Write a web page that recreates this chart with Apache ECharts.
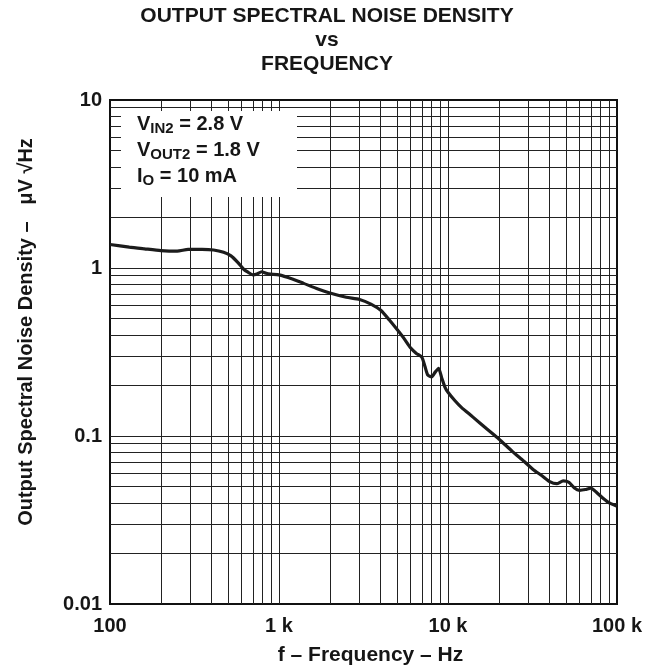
<!DOCTYPE html>
<html><head><meta charset="utf-8">
<script src="https://cdn.jsdelivr.net/npm/echarts@6/dist/echarts.min.js"></script>
<style>html,body{margin:0;padding:0;background:#fff}#c{width:652px;height:672px}</style>
</head><body><div id="c"></div>
<script>
// ---- data ----
const freqHz = [100,130,160,200,250,290,350,410,470,520,570,620,660,700,740,790,840,890,1000,1200,1400,1700,2000,2500,3000,3500,4000,4500,5000,5500,6000,6500,7000,7300,7600,8000,8400,8800,9200,9600,10000,11000,12000,14000,17000,20000,24000,28000,32000,36000,40000,44000,48000,52000,56000,60000,65000,70000,76000,83000,90000,100000];
const noiseUvRtHz = [1.38,1.33,1.30,1.27,1.26,1.29,1.29,1.28,1.24,1.18,1.08,0.98,0.94,0.91,0.92,0.95,0.93,0.92,0.91,0.86,0.81,0.75,0.71,0.67,0.65,0.61,0.56,0.49,0.43,0.38,0.335,0.31,0.295,0.26,0.23,0.225,0.24,0.253,0.22,0.195,0.182,0.162,0.148,0.13,0.11,0.096,0.081,0.071,0.063,0.058,0.0535,0.052,0.054,0.053,0.049,0.0475,0.048,0.049,0.046,0.0425,0.040,0.0383];
const xTickValues = [100,1000,10000,100000];
const xTickLabels = ['100','1 k','10 k','100 k'];
const yTickValues = [0.01,0.1,1,10];
const yTickLabels = ['0.01','0.1','1','10'];
const xGridDecades = [100,1000,10000];
const yGridDecades = [0.01,0.1,1];
const gridMultipliers = [1,2,3,4,5,6,7,8,9];
const titleLines = ['OUTPUT SPECTRAL NOISE DENSITY','vs','FREQUENCY'];
const xAxisName = 'f \u2013 Frequency \u2013 Hz';
const yAxisName = 'Output Spectral Noise Density \u2013   \u03bcV \u221aHz';
const conditionLines = [['V','IN2',' = 2.8 V'],['V','OUT2',' = 1.8 V'],['I','O',' = 10 mA']];

// ---- build ----
const FONT = '"Liberation Sans", Arial, Helvetica, sans-serif';
const INK = '#161616';
const series = freqHz.map((f,i)=>[f, noiseUvRtHz[i]]);
const gridLines = [];
xGridDecades.forEach(d=>gridMultipliers.forEach(m=>{const v=d*m; if(v>100) gridLines.push({xAxis:v});}));
yGridDecades.forEach(d=>gridMultipliers.forEach(m=>{const v=+(d*m).toPrecision(3); if(v>0.01) gridLines.push({yAxis:v});}));
function lab(vals, labels){ return v => { for(let i=0;i<vals.length;i++){ if(Math.abs(Math.log10(v)-Math.log10(vals[i]))<1e-6) return labels[i]; } return ''; }; }
const condText = conditionLines.map(l=>'{m|'+l[0]+'}{s|'+l[1]+'}{m|'+l[2]+'}').join('\n');

const chart = echarts.init(document.getElementById('c'), null, {renderer:'canvas'});
const L=110, T=100, R=617, B=604;
const titleGraphics = titleLines.map((t,i)=>({type:'text', z:60, x:327, y:16+24*i,
  style:{text:t, align:'center', verticalAlign:'middle', font:'bold 21px '+FONT, fill:INK}}));
chart.setOption({
  animation:false,
  backgroundColor:'#fff',
  grid:{left:L, top:T, right:652-R, bottom:672-B, show:true, borderColor:'#111', borderWidth:2, backgroundColor:'transparent'},
  xAxis:{type:'log', logBase:10, min:100, max:100000,
    axisLine:{show:false}, axisTick:{show:false}, splitLine:{show:false}, minorTick:{show:false},
    axisLabel:{formatter:lab(xTickValues,xTickLabels), color:INK, fontFamily:FONT, fontWeight:'bold', fontSize:20, margin:12, showMinLabel:true, showMaxLabel:true},
    name:xAxisName, nameLocation:'middle', nameGap:41,
    nameTextStyle:{color:INK, fontFamily:FONT, fontWeight:'bold', fontSize:21, padding:[0,0,0,14]}},
  yAxis:{type:'log', logBase:10, min:0.01, max:10,
    axisLine:{show:false}, axisTick:{show:false}, splitLine:{show:false}, minorTick:{show:false},
    axisLabel:{formatter:lab(yTickValues,yTickLabels), color:INK, fontFamily:FONT, fontWeight:'bold', fontSize:20, margin:8, showMinLabel:true, showMaxLabel:true},
    name:yAxisName, nameLocation:'middle', nameRotate:90, nameGap:74,
    nameTextStyle:{color:INK, fontFamily:FONT, fontWeight:'bold', fontSize:20, padding:[0,0,0,40]}},
  series:[
    {type:'line', data:[], silent:true, z:1,
     markLine:{silent:true, symbol:['none','none'], label:{show:false}, animation:false,
       lineStyle:{color:'#222', width:1, type:'solid'}, emphasis:{disabled:true}, data:gridLines}},
    {type:'line', data:series, showSymbol:false, smooth:0.2, z:5,
     lineStyle:{color:'#1c1c1c', width:3.2}}
  ],
  graphic:[
    {type:'rect', z:50, shape:{x:121, y:111, width:176, height:86}, style:{fill:'#fff'}},
    {type:'text', z:60, x:137, y:111, style:{
      text:condText,
      rich:{m:{fontFamily:FONT, fontWeight:'bold', fontSize:20, lineHeight:26, fill:INK, verticalAlign:'middle'},
            s:{fontFamily:FONT, fontWeight:'bold', fontSize:15, lineHeight:26, fill:INK, padding:[10,0,0,0], verticalAlign:'middle'}}}}
  ].concat(titleGraphics)
});
</script></body></html>
